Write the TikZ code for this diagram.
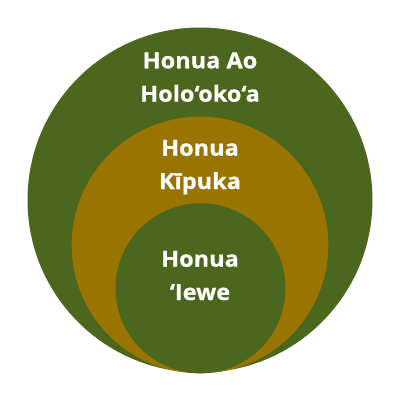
\documentclass[tikz,border=0pt]{standalone}
\usepackage{fontspec}
\setmainfont{Open Sans}[BoldFont={* Bold},BoldFeatures={FakeStretch=1.06,FakeBold=0.6}]
\definecolor{leaf}{RGB}{75,103,30}
\definecolor{gold}{RGB}{154,116,0}
\begin{document}
\begin{tikzpicture}[x=1pt,y=-1pt,
  lbl/.style={anchor=base,text=white,font=\fontsize{22.2}{22}\selectfont\bfseries,inner sep=0pt}]
\useasboundingbox[fill=white] (0,0) rectangle (400,400);
\fill[leaf] (200,200) circle[radius=172.5];
\fill[gold] (200,245) circle[radius=128.3];
\fill[leaf] (200.5,288.3) circle[radius=85];
\node[lbl] (o1) at (200,68.3) {Honua Ao};
\node[lbl] (o2) at (200,101.7) {Holo‘oko‘a};
\node[lbl] (m1) at (200,155.7) {Honua};
\node[lbl] (m2) at (200,189) {Kīpuka};
\node[lbl] (i1) at (200,266.7) {Honua};
\node[lbl] (i2) at (200,300) {‘Iewe};
\end{tikzpicture}
\end{document}
